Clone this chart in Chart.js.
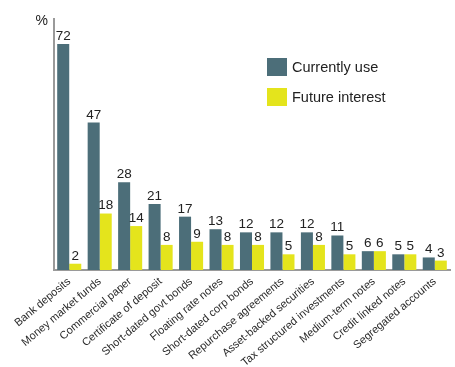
<!DOCTYPE html>
<html>
<head>
<meta charset="utf-8">
<script src="https://cdn.jsdelivr.net/npm/chart.js@4/dist/chart.umd.min.js"></script>
<style>
html,body{margin:0;padding:0;background:#fff;}
#wrap{position:relative;width:455px;height:367px;}
</style>
</head>
<body>
<div id="wrap"><canvas id="c" width="455" height="367"></canvas></div>
<script>
const categories = ["Bank deposits","Money market funds","Commercial paper","Certificate of deposit","Short-dated govt bonds","Floating rate notes","Short-dated corp bonds","Repurchase agreements","Asset-backed securities","Tax structured investments","Medium-term notes","Credit linked notes","Segregated accounts"];
const currentlyUse = [72,47,28,21,17,13,12,12,12,11,6,5,4];
const futureInterest = [2,18,14,8,9,8,8,5,8,5,6,5,3];
const seriesNames = ["Currently use","Future interest"];
const unitLabel = "%";

const TEAL = '#4c6e79';
const YELLOW = '#e4e41c';
const FONT = '"Liberation Sans", Arial, Helvetica, sans-serif';

const extras = {
  id: 'extras',
  afterDatasetsDraw(chart) {
    const ctx = chart.ctx;
    ctx.save();
    ctx.fillStyle = '#222';
    ctx.font = '13.5px ' + FONT;
    ctx.textAlign = 'center';
    ctx.textBaseline = 'bottom';
    chart.data.datasets.forEach((ds, i) => {
      const meta = chart.getDatasetMeta(i);
      meta.data.forEach((bar, j) => {
        ctx.fillText(String(ds.data[j]), bar.x, bar.y - 1);
      });
    });
    // unit label
    ctx.font = '14px ' + FONT;
    ctx.textAlign = 'right';
    ctx.textBaseline = 'alphabetic';
    ctx.fillText(unitLabel, chart.chartArea.left - 6, chart.chartArea.top + 6);
    // legend
    const lx = 267, ly = [58, 88];
    ctx.textAlign = 'left';
    ctx.textBaseline = 'middle';
    ctx.font = '14.5px ' + FONT;
    chart.data.datasets.forEach((ds, i) => {
      ctx.fillStyle = ds.backgroundColor;
      ctx.fillRect(lx, ly[i], 20, 18);
      ctx.fillStyle = '#222';
      ctx.fillText(ds.label, lx + 25, ly[i] + 10);
    });
    ctx.restore();
  }
};

new Chart(document.getElementById('c'), {
  type: 'bar',
  data: {
    labels: categories,
    datasets: [
      {label: seriesNames[0], data: currentlyUse, backgroundColor: TEAL, categoryPercentage: 0.79, barPercentage: 1.0},
      {label: seriesNames[1], data: futureInterest, backgroundColor: YELLOW, categoryPercentage: 0.79, barPercentage: 1.0}
    ]
  },
  options: {
    responsive: false,
    animation: false,
    events: [],
    layout: {padding: {left: 54, right: 5, top: 19, bottom: 0}},
    plugins: {legend: {display: false}, tooltip: {enabled: false}},
    scales: {
      x: {
        grid: {display: false, drawTicks: false},
        border: {display: true, color: '#9a9a9a', width: 2},
        ticks: {
          autoSkip: false, minRotation: 40, maxRotation: 40, padding: 5,
          color: '#2a2a2a', font: {family: FONT, size: 11}
        },
        afterFit(scale) { scale.height = 97; }
      },
      y: {
        min: 0, max: 80,
        grid: {display: false, drawTicks: false},
        border: {display: true, color: '#9a9a9a', width: 2},
        ticks: {display: false},
        afterFit(scale) { scale.width = 0; }
      }
    }
  },
  plugins: [extras]
});
</script>
</body>
</html>
